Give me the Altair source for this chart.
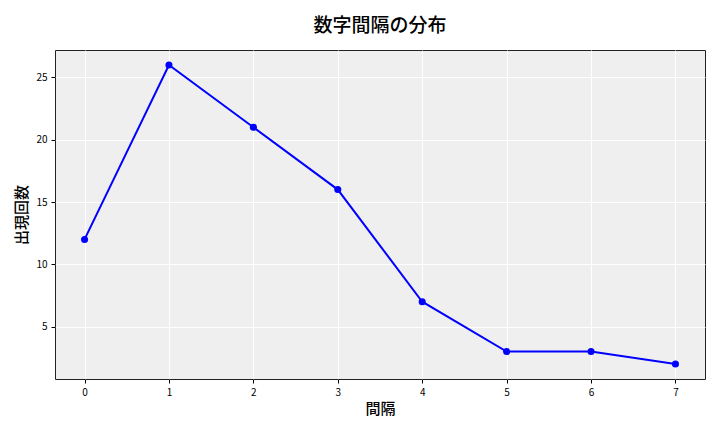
import altair as alt
import pandas as pd

intervals = [0, 1, 2, 3, 4, 5, 6, 7]
counts = [12, 26, 21, 16, 7, 3, 3, 2]

df = pd.DataFrame({"interval": intervals, "count": counts})

FONT = "Noto Sans CJK JP"

base = alt.Chart(df).encode(
    x=alt.X("interval:Q",
            scale=alt.Scale(domain=[-0.35, 7.35], nice=False, zero=False),
            axis=alt.Axis(title="間隔", values=intervals, format="d",
                          grid=True, gridColor="white", gridWidth=1,
                          domain=False, tickColor="black", tickSize=4,
                          labelFontSize=10, labelColor="black", labelFont=FONT,
                          titleFont=FONT, titleFontSize=15, titleFontWeight=500,
                          titleColor="black", titlePadding=4, labelPadding=4)),
    y=alt.Y("count:Q",
            scale=alt.Scale(domain=[0.8, 27.2], nice=False, zero=False),
            axis=alt.Axis(title="出現回数", values=[5, 10, 15, 20, 25],
                          grid=True, gridColor="white", gridWidth=1,
                          domain=False, tickColor="black", tickSize=4,
                          labelFontSize=10, labelColor="black", labelFont=FONT,
                          titleFont=FONT, titleFontSize=15, titleFontWeight=500,
                          titleColor="black", titlePadding=6, labelPadding=4)),
)

line = base.mark_line(color="#0000ff", strokeWidth=2)
points = base.mark_circle(color="#0000ff", size=50, opacity=1)

chart = (line + points).properties(
    width=650,
    height=329,
    title=alt.TitleParams("数字間隔の分布", font=FONT, fontSize=19,
                          fontWeight=500, color="black", offset=14),
    autosize=alt.AutoSizeParams(type="none"),
    padding={"left": 47, "top": 42, "right": 7, "bottom": 45},
).configure(
    background="white",
    view=alt.ViewConfig(fill="#efefef", stroke="#222222", strokeWidth=1),
)

chart.save("out.html", embed_options={"renderer": "svg", "actions": False})
